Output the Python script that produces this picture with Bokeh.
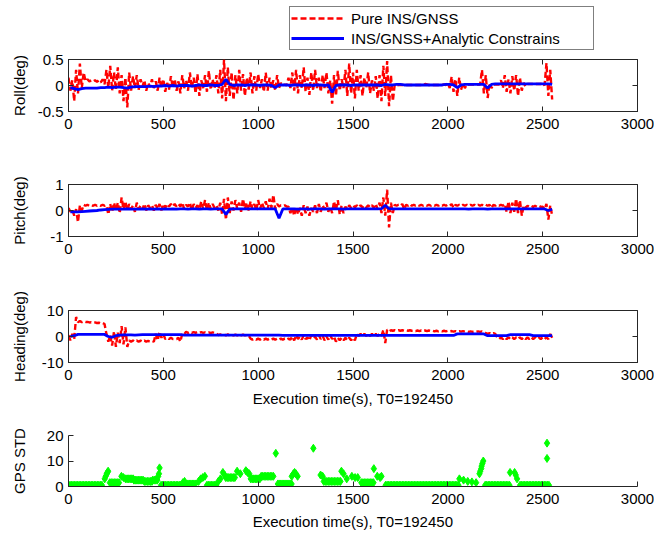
import numpy as np
from bokeh.plotting import figure
from bokeh.models import (Range1d, FixedTicker, LinearAxis, Legend, LegendItem,
                          CustomJSTickFormatter)
from bokeh.layouts import column
from bokeh.embed import file_html
from bokeh.resources import INLINE

# ---------------- data (20 s bins) ----------------
bin_start = list(range(0, 2560, 20))   # start of each 20 s bin (128 bins)

roll_pure_hi = [0.15, 0.10, 0.30, 0.42, 0.25, 0.12, 0.10, 0.10, 0.10, 0.12,
                0.30, 0.38, 0.25, 0.35, 0.20, 0.15, 0.25, 0.18, 0.20, 0.12,
                0.10, 0.05, 0.12, 0.08, 0.15, 0.12, 0.05, 0.18, 0.12, 0.08,
                0.20, 0.10, 0.25, 0.15, 0.22, 0.10, 0.20, 0.28, 0.12, 0.20,
                0.30, 0.50, 0.35, 0.25, 0.20, 0.30, 0.22, 0.15, 0.25, 0.18,
                0.22, 0.12, 0.25, 0.15, 0.10, 0.20, 0.05, 0.02, 0.15, 0.25,
                0.30, 0.20, 0.35, 0.15, 0.25, 0.30, 0.15, 0.20, 0.25, 0.10,
                0.20, 0.28, 0.12, 0.30, 0.42, 0.25, 0.30, 0.20, 0.15, 0.25,
                0.10, 0.18, 0.20, 0.38, 0.47, 0.20, 0.02, 0.01, 0.01, 0.01,
                0.01, 0.01, 0.01, 0.01, 0.03, 0.01, 0.01, 0.01, 0.01, 0.02,
                0.05, 0.17, 0.12, 0.15, 0.05, 0.02, 0.02, 0.02, 0.02, 0.30,
                0.20, 0.05, 0.02, 0.02, 0.10, 0.20, 0.12, 0.18, 0.20, 0.15,
                0.05, 0.03, 0.03, 0.03, 0.03, 0.05, 0.43, 0.30]
roll_pure_lo = [-0.10, -0.30, -0.15, -0.05, 0.08, 0.08, 0.08, 0.07, 0.06, 0.02,
                -0.05, -0.10, -0.08, -0.15, -0.30, -0.42, -0.10, -0.05, -0.08, -0.02,
                -0.10, -0.03, -0.05, -0.10, -0.05, -0.12, -0.08, -0.05, -0.10, -0.15,
                -0.05, -0.10, -0.05, -0.15, -0.20, -0.05, -0.12, -0.08, -0.05, -0.15,
                -0.25, -0.30, -0.20, -0.28, -0.15, -0.10, -0.20, -0.08, -0.15, -0.10,
                -0.05, -0.12, -0.10, -0.05, -0.10, -0.05, 0.00, 0.00, -0.05, -0.10,
                -0.15, -0.05, -0.12, -0.18, -0.10, -0.05, -0.12, -0.05, -0.15, -0.35,
                -0.20, -0.10, -0.05, -0.20, -0.15, -0.25, -0.10, -0.20, -0.05, -0.15,
                -0.10, -0.25, -0.30, -0.20, -0.40, -0.30, 0.00, 0.01, 0.01, 0.01,
                0.01, 0.01, 0.01, 0.01, 0.02, 0.01, 0.01, 0.01, 0.01, 0.01,
                -0.05, -0.12, -0.20, -0.08, -0.05, 0.02, 0.02, 0.02, 0.02, -0.15,
                -0.24, -0.05, 0.02, 0.02, -0.05, -0.12, -0.15, -0.10, -0.20, -0.10,
                -0.02, 0.03, 0.03, 0.03, 0.03, 0.00, -0.20, -0.27]
roll_ac = [-0.04, -0.06, -0.08, -0.06, -0.05, -0.05, -0.05, -0.05, -0.04, -0.04,
           -0.03, -0.04, -0.03, -0.03, -0.04, -0.05, -0.03, -0.02, -0.02, -0.02,
           -0.02, -0.01, -0.02, -0.01, -0.01, 0.00, -0.01, 0.00, -0.01, 0.00,
           0.00, 0.00, -0.01, 0.00, 0.01, 0.00, 0.00, 0.01, 0.00, 0.00,
           0.02, 0.12, 0.02, 0.00, 0.01, 0.01, 0.00, 0.01, 0.01, 0.01,
           0.00, 0.01, 0.01, 0.00, -0.04, 0.01, 0.01, 0.01, 0.00, 0.01,
           0.01, 0.00, 0.01, 0.01, 0.00, 0.01, 0.01, 0.00, 0.01, -0.13,
           0.00, 0.01, 0.01, 0.01, 0.00, 0.01, 0.01, 0.01, 0.01, 0.01,
           0.01, 0.01, 0.00, 0.02, 0.01, 0.01, 0.02, 0.02, 0.01, 0.01,
           0.01, 0.01, 0.01, 0.01, 0.01, 0.01, 0.01, 0.01, 0.01, 0.02,
           0.02, 0.01, -0.04, 0.01, 0.02, 0.02, 0.02, 0.02, 0.02, 0.02,
           -0.05, 0.02, 0.03, 0.03, 0.03, 0.03, 0.03, 0.03, 0.03, 0.03,
           0.03, 0.03, 0.03, 0.03, 0.03, 0.03, 0.03, 0.02]

pitch_pure_hi = [0.10, 0.05, 0.05, 0.20, 0.22, 0.22, 0.21, 0.22, 0.21, 0.22,
                 0.20, 0.25, 0.30, 0.30, 0.50, 0.35, 0.25, 0.20, 0.30, 0.20,
                 0.25, 0.20, 0.20, 0.22, 0.25, 0.25, 0.25, 0.25, 0.25, 0.25,
                 0.30, 0.22, 0.30, 0.25, 0.20, 0.35, 0.40, 0.30, 0.25, 0.20,
                 0.30, 0.45, 0.50, 0.35, 0.40, 0.30, 0.45, 0.30, 0.35, 0.25,
                 0.40, 0.30, 0.35, 0.45, 0.60, 0.25, 0.20, 0.20, 0.15, 0.10,
                 0.15, 0.10, 0.20, 0.15, 0.10, 0.20, 0.25, 0.20, 0.30, 0.15,
                 0.35, 0.40, 0.20, 0.15, 0.20, 0.20, 0.20, 0.20, 0.20, 0.20,
                 0.20, 0.25, 0.30, 0.50, 0.80, 0.30, 0.22, 0.22, 0.25, 0.22,
                 0.25, 0.22, 0.22, 0.22, 0.22, 0.22, 0.22, 0.22, 0.22, 0.22,
                 0.22, 0.25, 0.22, 0.22, 0.22, 0.22, 0.22, 0.22, 0.22, 0.22,
                 0.22, 0.22, 0.22, 0.22, 0.22, 0.25, 0.35, 0.30, 0.45, 0.40,
                 0.20, 0.18, 0.18, 0.18, 0.18, 0.15, 0.25, 0.20]
pitch_pure_lo = [-0.05, -0.20, -0.45, 0.00, 0.18, 0.18, 0.18, 0.18, 0.18, 0.18,
                 -0.15, -0.05, 0.00, -0.10, 0.05, 0.00, 0.05, -0.05, 0.05, 0.05,
                 0.00, 0.10, 0.00, 0.05, 0.00, 0.10, 0.15, 0.15, 0.15, 0.15,
                 0.05, 0.15, 0.00, 0.10, 0.05, 0.05, 0.00, 0.05, 0.10, 0.00,
                 -0.15, -0.35, -0.10, 0.00, 0.05, -0.05, 0.05, 0.00, 0.05, 0.00,
                 0.05, 0.10, 0.05, 0.10, 0.05, 0.15, 0.18, 0.15, -0.10, -0.20,
                 -0.15, -0.20, -0.10, -0.20, -0.05, -0.10, -0.05, 0.05, -0.05, -0.10,
                 0.00, -0.15, -0.10, 0.05, 0.10, 0.12, 0.12, 0.12, 0.12, 0.12,
                 0.10, 0.05, -0.10, -0.20, -0.65, -0.10, 0.18, 0.18, 0.05, 0.18,
                 0.18, 0.18, 0.18, 0.18, 0.18, 0.18, 0.18, 0.18, 0.18, 0.18,
                 0.18, 0.10, 0.18, 0.18, 0.18, 0.18, 0.18, 0.18, 0.18, 0.18,
                 0.18, 0.10, 0.18, 0.18, 0.18, -0.05, -0.10, -0.05, -0.10, -0.20,
                 0.10, 0.14, 0.14, 0.14, 0.14, 0.05, -0.35, -0.20]
pitch_ac = [-0.05, -0.05, -0.05, -0.04, -0.03, -0.02, -0.01, 0.00, 0.02, 0.03,
            0.04, 0.05, 0.05, 0.05, 0.05, 0.06, 0.05, 0.05, 0.05, 0.06,
            0.05, 0.06, 0.05, 0.06, 0.05, 0.06, 0.05, 0.06, 0.05, 0.06,
            0.06, 0.05, 0.06, 0.06, 0.05, 0.06, 0.06, 0.05, 0.06, 0.06,
            0.06, -0.15, 0.05, 0.06, 0.06, 0.06, 0.06, 0.06, 0.06, 0.06,
            0.06, 0.06, 0.06, 0.06, 0.06, -0.30, 0.06, 0.06, 0.06, 0.06,
            0.05, 0.06, 0.06, 0.05, 0.06, 0.06, 0.06, 0.05, 0.06, 0.06,
            0.06, 0.06, 0.05, 0.06, 0.06, 0.06, 0.06, 0.06, 0.06, 0.06,
            0.06, 0.06, 0.07, 0.20, 0.07, 0.06, 0.06, 0.06, 0.06, 0.06,
            0.06, 0.06, 0.06, 0.06, 0.06, 0.06, 0.06, 0.06, 0.06, 0.06,
            0.06, 0.06, 0.06, 0.06, 0.06, 0.05, 0.06, 0.06, 0.06, 0.06,
            0.05, 0.06, 0.06, 0.06, 0.06, 0.06, 0.06, 0.06, 0.06, 0.06,
            0.06, 0.06, 0.06, 0.06, 0.06, 0.06, 0.00, 0.05]

head_pure_hi = [0.5, 1.0, 7.5, 6.0, 5.8, 5.6, 5.5, 5.4, 5.3, 5.2,
                1.0, 0.5, 2.0, 1.5, 4.0, 3.5, -1.5, -1.5, -1.5, -1.6,
                -1.6, -1.7, -1.7, 1.0, 1.8, 1.0, -0.5, -0.5, -1.0, -0.5,
                1.2, 1.8, 1.8, 1.7, 1.7, 1.7, 1.6, 1.6, 1.6, 1.2,
                0.8, 0.8, 0.8, 0.7, 0.7, 0.7, 0.7, 0.6, -0.8, -0.8,
                -0.8, -0.8, -0.8, -0.8, -0.8, -0.8, -0.8, -0.8, -0.8, 0.0,
                0.5, 0.0, 0.5, -0.3, 0.5, 0.0, 0.5, 0.3, 0.0, 0.5,
                0.0, -0.5, -0.5, -0.5, -0.5, -0.5, 1.0, 1.0, 1.0, 1.0,
                1.0, 1.0, 1.0, 2.5, 2.6, 2.4, 2.4, 2.4, 2.4, 2.4,
                2.4, 2.3, 2.3, 2.3, 2.3, 2.3, 2.2, 2.2, 2.2, 2.2,
                2.2, 2.1, 2.1, 2.1, 2.1, 2.0, 2.0, 2.0, 2.0, 2.0,
                1.3, 1.3, 1.3, -0.3, -0.3, -0.3, -0.3, -0.3, -0.3, -0.3,
                -0.3, -0.3, -0.3, -0.3, -0.3, -0.3, -0.3, 1.0]
head_pure_lo = [-1.5, -1.0, 5.5, 5.5, 5.6, 5.4, 5.3, 5.2, 5.0, 4.8,
                -2.0, -3.5, -4.0, -2.5, -3.0, -4.0, -2.0, -2.0, -2.0, -2.0,
                -2.0, -2.0, -2.0, -1.5, -0.5, -1.0, -1.0, -1.0, -1.0, -2.0,
                0.8, 1.4, 1.4, 1.4, 1.4, 1.4, 1.4, 1.3, 1.3, 0.5,
                0.4, 0.4, 0.4, 0.4, 0.4, 0.4, 0.4, 0.4, -1.2, -1.2,
                -1.2, -1.2, -1.2, -1.2, -1.2, -1.2, -1.2, -1.2, -1.2, -1.5,
                -1.0, -1.2, -1.0, -1.5, -0.8, -1.2, -1.0, -1.5, -1.2, -1.0,
                -2.0, -1.5, -1.5, -1.5, -1.5, -1.5, 0.2, 0.2, 0.2, 0.2,
                0.2, 0.2, 0.2, -2.5, 2.0, 2.2, 2.2, 2.2, 2.2, 2.2,
                2.2, 2.1, 2.1, 2.1, 2.1, 2.1, 2.0, 2.0, 2.0, 2.0,
                2.0, 1.9, 1.9, 1.9, 1.9, 1.8, 1.8, 1.8, 1.8, 1.8,
                1.0, 1.0, 1.0, -1.0, -1.0, -1.0, -1.0, -1.0, -1.0, -1.0,
                -1.0, -1.0, -1.0, -1.0, -1.0, -1.0, -1.0, -0.5]
head_ac = [0.0, 0.3, 0.8, 0.8, 0.8, 0.8, 0.8, 0.8, 0.8, 0.8,
           0.0, -0.3, 0.3, 0.5, 0.6, 0.6, 0.6, 0.5, 0.6, 0.7,
           0.7, 0.7, 0.7, 0.7, 0.7, 0.7, 0.7, 0.7, 0.7, 0.7,
           0.5, 0.5, 0.5, 0.5, 0.5, 0.5, 0.5, 0.5, 0.5, 0.5,
           0.5, 0.5, 0.5, 0.5, 0.5, 0.5, 0.5, 0.5, 0.5, 0.5,
           0.5, 0.5, 0.5, 0.5, 0.5, 0.5, 0.4, 0.4, 0.4, 0.4,
           0.4, 0.4, 0.4, 0.4, 0.4, 0.4, 0.4, 0.4, 0.4, 0.4,
           0.4, 0.4, 0.4, 0.4, 0.4, 0.4, 0.4, 0.4, 0.4, 0.4,
           0.4, 0.4, 0.4, 0.4, 0.4, 0.4, 0.4, 0.4, 0.4, 0.4,
           0.4, 0.4, 0.4, 0.4, 0.4, 0.4, 0.4, 0.4, 0.4, 0.4,
           0.4, 0.4, 1.0, 1.0, 1.0, 1.0, 1.0, 1.0, 1.0, 1.0,
           0.3, 0.3, 0.3, 0.3, 0.3, 0.3, 0.7, 0.7, 0.7, 0.7,
           0.7, 0.7, 0.3, 0.3, 0.3, 0.3, 0.3, 0.3]

# GPS STD: long runs of (almost) constant value, and single points
gps_run_start = [0, 218, 301, 345, 400, 444, 488, 620, 730, 829, 961, 1016,
                 1104, 1346, 1544, 1672, 2197, 2381]
gps_run_end = [180, 268, 345, 400, 444, 475, 609, 675, 785, 884, 1016, 1082,
               1181, 1434, 1610, 2061, 2329, 2540]
gps_run_value = [0.5, 1.5, 3.0, 2.5, 2.0, 2.5, 0.5, 1.0, 0.5, 3.5, 3.0, 4.0,
                 1.0, 2.0, 1.5, 0.5, 0.5, 0.5]
gps_pt_t = [191, 196, 202, 205, 209, 279, 290, 473, 477, 480, 603, 612,
            686, 697, 708, 719, 790, 801, 814, 823, 889, 906, 935, 944, 953,
            1093, 1177, 1186, 1192, 1199, 1208, 1291, 1329, 1340, 1439, 1450,
            1467, 1494, 1511, 1525, 1610, 1628, 1643, 1650, 2061, 2083, 2105,
            2127, 2149, 2167, 2171, 2176, 2178, 2182, 2187, 2328, 2352, 2358,
            2365, 2523, 2523]
gps_pt_v = [3.0, 4.0, 5.0, 5.5, 6.0, 4.0, 3.5, 4.0, 5.0, 7.3, 1.5, 2.0,
            2.0, 3.0, 3.5, 4.0, 2.0, 3.0, 5.5, 4.5, 6.0, 5.0, 6.2, 5.5, 5.0,
            13.0, 4.0, 5.0, 5.5, 5.0, 4.0, 15.0, 4.5, 4.0, 6.0, 5.0,
            3.0, 4.0, 3.5, 3.5, 7.0, 4.0, 3.5, 4.0, 3.0, 2.5, 2.0,
            1.8, 1.5, 5.0, 6.0, 7.0, 8.0, 9.0, 10.0, 5.5, 5.5, 4.5,
            3.0, 17.0, 11.0]

x_ticks = [0, 500, 1000, 1500, 2000, 2500, 3000]
legend_labels = ["Pure INS/GNSS", "INS/GNSS+Analytic Constrains"]
x_label = "Execution time(s), T0=192450"

# ---------------- styling ----------------
FONT = "Liberation Sans"
FS = "15px"
AX = "#262626"
RED = "#ff0000"
BLUE = "#0000ff"
GREEN = "#00ff00"
W = 654
FMT = "return String(tick)"
RED_STYLE = dict(line_color=RED, line_width=2.4, line_dash="6 3")
BLUE_STYLE = dict(line_color=BLUE, line_width=2.8)


def zigzag(hi, lo):
    xs, ys = [], []
    for t, h, l in zip(bin_start, hi, lo):
        xs += [t, t + 10]
        ys += [h, l]
    return xs, ys


def centers():
    return [t + 10 for t in bin_start]


def style_axis(ax, ticks, labels=True, standoff=5):
    ax.ticker = FixedTicker(ticks=ticks)
    ax.formatter = CustomJSTickFormatter(code=FMT)
    ax.major_tick_in = 5
    ax.major_tick_out = 0
    ax.minor_tick_line_color = None
    ax.major_tick_line_color = AX
    ax.axis_line_color = AX
    ax.major_label_standoff = standoff
    ax.major_label_text_font = FONT
    ax.major_label_text_font_size = FS
    ax.major_label_text_color = "black" if labels else None
    ax.axis_label_text_font = FONT
    ax.axis_label_text_font_size = FS
    ax.axis_label_text_font_style = "normal"
    ax.axis_label_text_color = "black"


def make_fig(h, top, bottom, yr, yticks, ylabel, ylab_standoff, xlabel=None,
             xlab_standoff=0, box=True):
    p = figure(width=W, height=h, x_range=Range1d(0, 3000),
               y_range=Range1d(*yr), output_backend="svg",
               toolbar_location=None, min_border_left=68, min_border_right=17,
               min_border_top=top, min_border_bottom=bottom)
    p.grid.visible = False
    p.background_fill_color = "white"
    p.border_fill_color = "white"
    style_axis(p.xaxis[0], x_ticks, standoff=7)
    style_axis(p.yaxis[0], yticks)
    p.yaxis[0].axis_label = ylabel
    p.yaxis[0].axis_label_standoff = ylab_standoff
    if xlabel:
        p.xaxis[0].axis_label = xlabel
        p.xaxis[0].axis_label_standoff = xlab_standoff
    if box:
        p.outline_line_color = AX
        p.outline_line_width = 1
        p.outline_line_alpha = 1
        top_ax = LinearAxis()
        style_axis(top_ax, x_ticks, labels=False, standoff=0)
        top_ax.axis_line_color = None
        p.add_layout(top_ax, "above")
        right_ax = LinearAxis()
        style_axis(right_ax, yticks, labels=False, standoff=0)
        right_ax.axis_line_color = None
        p.add_layout(right_ax, "right")
    else:
        p.outline_line_color = None
    return p


def add_pair(p, hi, lo, ac):
    xs, ys = zigzag(hi, lo)
    p.line(xs, ys, **RED_STYLE)
    p.line(centers(), ac, **BLUE_STYLE)


# Legend strip on top (figure rows: 50 + 100 + 125 + 135 + 122 = 532 px)
p0 = figure(width=W, height=50, x_range=Range1d(0, 1), y_range=Range1d(0, 1),
            output_backend="svg", toolbar_location=None, min_border=0)
p0.axis.visible = False
p0.grid.visible = False
p0.outline_line_color = None
lr_red = p0.line([float("nan")], [float("nan")], **RED_STYLE)
lr_blue = p0.line([float("nan")], [float("nan")], **BLUE_STYLE)
legend = Legend(items=[LegendItem(label=legend_labels[0], renderers=[lr_red]),
                       LegendItem(label=legend_labels[1], renderers=[lr_blue])],
                location=(221, 0), margin=0, padding=1, spacing=0,
                glyph_width=53, glyph_height=20, label_height=20,
                label_width=241, label_standoff=7,
                label_text_font=FONT, label_text_font_size=FS,
                label_text_line_height=1.0,
                label_text_color="black",
                border_line_color="black", border_line_width=1,
                background_fill_color="white", background_fill_alpha=1)
p0.add_layout(legend)

# Roll
p1 = make_fig(100, 9, 39, (-0.5, 0.5), [-0.5, 0, 0.5], "Roll(deg)", 7)
add_pair(p1, roll_pure_hi, roll_pure_lo, roll_ac)

# Pitch
p2 = make_fig(125, 34, 39, (-1, 1), [-1, 0, 1], "Pitch(deg)", 19)
add_pair(p2, pitch_pure_hi, pitch_pure_lo, pitch_ac)

# Heading
p3 = make_fig(135, 35, 48, (-10, 10), [-10, 0, 10], "Heading(deg)", 11,
              xlabel=x_label, xlab_standoff=7)
add_pair(p3, head_pure_hi, head_pure_lo, head_ac)

# GPS STD
p4 = make_fig(122, 25, 44, (0, 20), [0, 10, 20], "GPS STD", 16,
              xlabel=x_label, xlab_standoff=6, box=False)
gx, gy = [], []
for s, e, v in zip(gps_run_start, gps_run_end, gps_run_value):
    for t in np.arange(s, e + 1, 8):
        gx.append(float(t))
        gy.append(v)
gx += gps_pt_t
gy += gps_pt_v
p4.scatter(gx, gy, marker="diamond", size=8, fill_color=GREEN,
           line_color=GREEN, line_width=1)

layout = column(p0, p1, p2, p3, p4, spacing=0)
open("out.html", "w").write(file_html(layout, INLINE))
